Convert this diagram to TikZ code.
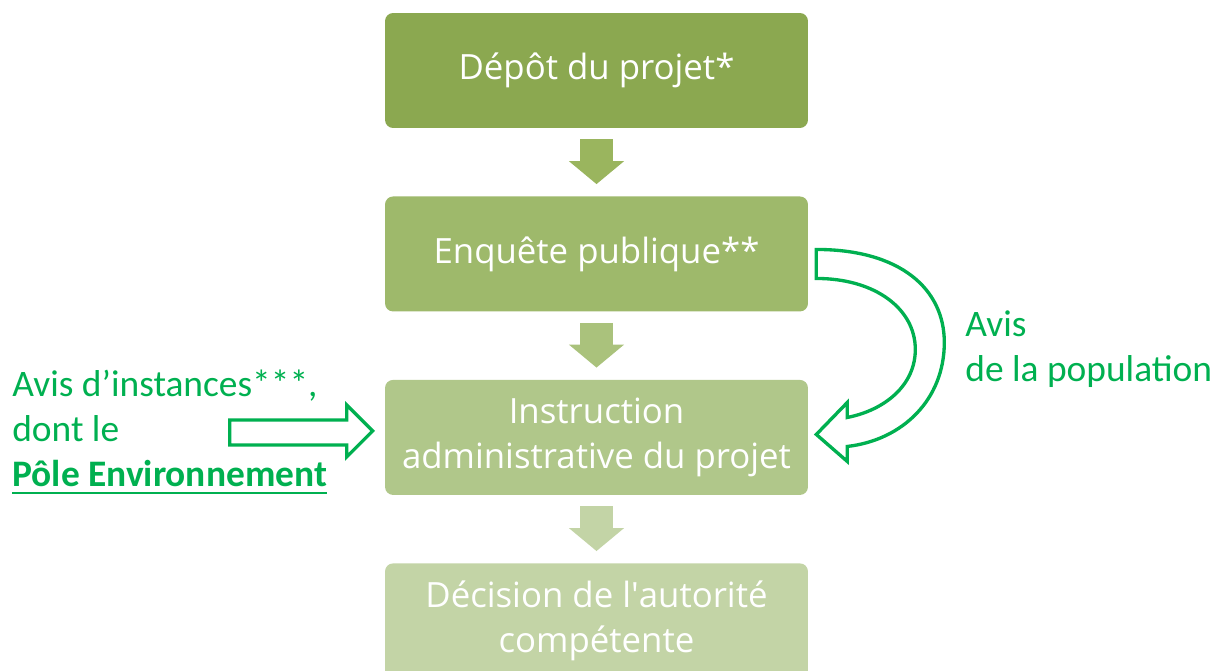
\documentclass[tikz,border=0pt]{standalone}
\usepackage{fontspec}
\setmainfont{Open Sans}
\newfontfamily\calibri{Carlito}
\usetikzlibrary{arrows.meta, calc}

\definecolor{etapeA}{HTML}{8BA850}
\definecolor{etapeB}{HTML}{9EB96B}
\definecolor{etapeC}{HTML}{B0C78A}
\definecolor{etapeD}{HTML}{C3D4A6}
\definecolor{flecheA}{HTML}{9AB55E}
\definecolor{flecheB}{HTML}{AAC27C}
\definecolor{flecheC}{HTML}{C3D4A6}
\definecolor{vert}{HTML}{00B050}

\newcommand\souligne[1]{\setbox0\hbox{#1}\rlap{\rule[-4.5pt]{\wd0}{1.4pt}}\box0}

\begin{document}
\begin{tikzpicture}[x=0.02cm, y=-0.02cm, node distance=3.67cm]
    \tikzstyle{etape} = [rectangle, rounded corners=0.16cm, minimum width=8.46cm, minimum height=2.3cm, text centered, align=center, text=white, font=\fontsize{19.8}{26}\selectfont]
    \tikzstyle{descente} = [line width=0.66cm, -{Triangle[width=1.08cm, length=0.46cm]}, shorten <=0.22cm, shorten >=0.24cm]
    \tikzstyle{avis} = [text=vert, align=left, inner sep=0pt, font=\calibri\fontsize{21.3}{25.6}\selectfont]
    \tikzstyle{contour} = [draw=vert, line width=1.9pt, fill=white, line join=miter]

    \useasboundingbox (0,0) rectangle (1213,671);

    \node (depot) [etape, fill=etapeA] at (596.5,70.5) {Dépôt du projet*};
    \node (enquete) [etape, fill=etapeB, below of=depot] {Enquête publique**};
    \node (instr) [etape, fill=etapeC, below of=enquete] {Instruction\\administrative du projet};
    \node (decision) [etape, fill=etapeD, below of=instr] {Décision de l\textquotesingle autorité\\compétente};

    \node (instances) [avis, anchor=west] at (12,432) {Avis d’instances***,\\dont le\\\souligne{\textbf{Pôle Environnement}}};
    \node (population) [avis, anchor=west] at (965,349) {Avis\\de la population};

    % Arrows
    \draw [descente, flecheA] (depot) -- (enquete);
    \draw [descente, flecheB] (enquete) -- (instr);
    \draw [descente, flecheC] (instr) -- (decision);

    \begin{scope}[shift={(enquete.east)}]
        \draw [contour] (8,-4.5) .. controls (92,-4.5) and (136,35) .. (136,88.5)
            .. controls (136,145) and (95,186) .. (39,192.5) -- (39,207.5) -- (8,180.5)
            -- (39,148.5) -- (39,163.5) .. controls (77,156) and (107,131) .. (107,95.5)
            .. controls (107,55) and (67,24.5) .. (8,24.5) -- cycle;
    \end{scope}
    \begin{scope}[shift={(instr.west)}]
        \draw [contour] (-155,-17.5) -- (-38,-17.5) -- (-38,-32.5) -- (-12,-6.5)
            -- (-38,19.5) -- (-38,7.5) -- (-155,7.5) -- cycle;
    \end{scope}
\end{tikzpicture}
\end{document}
